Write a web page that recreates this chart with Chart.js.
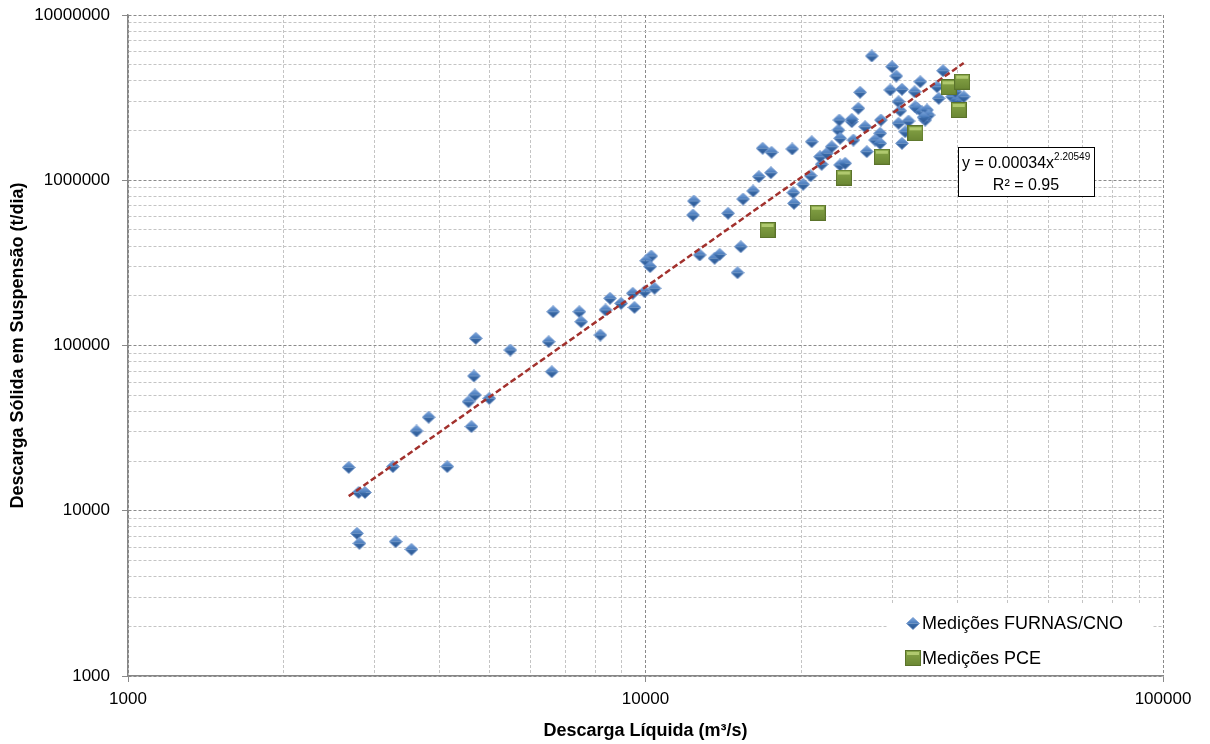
<!DOCTYPE html>
<html>
<head>
<meta charset="utf-8">
<script src="https://cdn.jsdelivr.net/npm/chart.js@4/dist/chart.umd.min.js"></script>
<style>
  html, body { margin: 0; padding: 0; background: #fff; }
  #wrap { width: 1210px; height: 744px; }
</style>
</head>
<body>
<div id="wrap"><canvas id="sedChart" width="1210" height="744"></canvas></div>
<script>
// Medições FURNAS/CNO: descarga líquida (m³/s) x descarga sólida (t/dia)
const furnasQ = [
  2670, 2790, 2870, 2770, 2800, 3250, 3290, 3530, 3610, 3810,
  4140, 4550, 4680, 4990, 4610, 4660, 4700, 5480, 6500, 6590,
  6630, 7450, 7510, 8180, 8370, 8540, 8970, 9450, 9520, 9960,
  10410, 10260, 10030, 10210, 12400, 12350, 12730, 13600, 13910, 14440,
  15280, 15060, 15440, 16140, 16560, 17470, 16840, 17520, 19210, 20950,
  19300, 19360, 20170, 20850, 21900, 21740, 22400, 22900, 23770, 24310,
  23590, 23770, 25040, 25220, 26570, 26770, 28410, 27780, 28410, 30830,
  31300, 31760, 34720, 27370, 29950, 30520, 25980, 29720, 31300, 33110,
  33960, 30830, 31060, 33210, 25780, 25040, 23690, 28500, 32230, 33460,
  34220, 34990, 35240, 34460, 36590, 36860, 37580, 39120, 40000, 41200,
  39700
];
const furnasQss = [
  18300, 12900, 12900, 7300, 6350, 18500, 6500, 5840, 30400, 36800,
  18500, 45700, 50200, 47900, 32300, 65400, 110500, 93900, 105400, 69400,
  160100, 160100, 139300, 115700, 164000, 193000, 180000, 207000, 170000, 211700,
  221900, 348000, 326000, 300000, 748700, 616000, 353000, 337000, 356000, 631000,
  396000, 275800, 770000, 861000, 1051000, 1111000, 1561000, 1476000, 1546000, 1711000,
  841000, 725000, 945000, 1065000, 1249000, 1388000, 1456000, 1596000, 1237000, 1267000,
  2014000, 1794000, 2262000, 1752000, 2109000, 1489000, 1924000, 1752000, 1673000, 2212000,
  1673000, 1967000, 2315000, 5648000, 4865000, 4274000, 3406000, 3517000, 3552000, 3435000,
  3948000, 2988000, 2636000, 2787000, 2725000, 2338000, 2315000, 2315000, 2283000, 2725000,
  2598000, 2662000, 2482000, 2404000, 3682000, 3131000, 4602000, 3202000, 3059000, 3202000,
  3435000
];

// Medições PCE
const pceQ = [17210, 21520, 24170, 28630, 33240, 38530, 40920, 40300];
const pceQss = [500000, 636000, 1039000, 1388000, 1924000, 3651000, 3948000, 2662000];

// curva de potência ajustada: y = a * x^b
const trendA = 0.00034;
const trendB = 2.20549;
const trendR2 = 0.95;

// decades shown on the axes
const xDecades = [1000, 10000, 100000];
const yDecades = [1000, 10000, 100000, 1000000, 10000000];

const FONT = "'Liberation Sans', Arial, sans-serif";

function toPoints(xs, ys) {
  return xs.map((x, i) => ({ x: x, y: ys[i] }));
}

function isDecade(v) {
  const l = Math.log10(v);
  return Math.abs(l - Math.round(l)) < 1e-9;
}

// gridline positions 1..9 x 10^n between the first and last decade
function logTicks(decades) {
  const out = [];
  for (let i = 0; i < decades.length - 1; i++) {
    for (let m = 1; m <= 9; m++) out.push(decades[i] * m);
  }
  out.push(decades[decades.length - 1]);
  return out;
}

// Excel-like marker sprites
function makeDiamond() {
  const c = document.createElement('canvas');
  c.width = 14; c.height = 13;
  const g = c.getContext('2d');
  const cx = 7, cy = 6.5, r = 13.5, b = 12.5;
  g.beginPath();
  g.moveTo(cx, 0.5); g.lineTo(r, cy); g.lineTo(0.5, cy); g.closePath();
  let gr = g.createLinearGradient(0, 0.5, 0, cy);
  gr.addColorStop(0, '#7fa8dc');
  gr.addColorStop(1, '#4679bb');
  g.fillStyle = gr; g.fill();
  g.beginPath();
  g.moveTo(0.5, cy); g.lineTo(r, cy); g.lineTo(cx, b); g.closePath();
  gr = g.createLinearGradient(0, cy, 0, b);
  gr.addColorStop(0, '#3a6cab');
  gr.addColorStop(1, '#2b558d');
  g.fillStyle = gr; g.fill();
  g.beginPath();
  g.moveTo(cx, 0.5); g.lineTo(r, cy); g.lineTo(cx, b); g.lineTo(0.5, cy); g.closePath();
  g.strokeStyle = 'rgba(100,140,200,0.75)';
  g.lineWidth = 1;
  g.stroke();
  return c;
}

function makeSquare() {
  const c = document.createElement('canvas');
  c.width = 16; c.height = 16;
  const g = c.getContext('2d');
  const gr = g.createLinearGradient(0, 0, 0, 16);
  gr.addColorStop(0, '#88a648');
  gr.addColorStop(1, '#6a8633');
  g.fillStyle = gr;
  g.fillRect(0, 0, 16, 16);
  g.fillStyle = '#b0c96f';
  g.fillRect(2, 2, 12, 3);
  g.strokeStyle = '#5b732b';
  g.lineWidth = 1;
  g.strokeRect(0.5, 0.5, 15, 15);
  return c;
}

const blueMarker = makeDiamond();
const greenMarker = makeSquare();

// trend line spans the measured range
const allQ = furnasQ.concat(pceQ);
const qMin = Math.min(...allQ);
const qMax = Math.max(...allQ);
const trendLine = [qMin, qMax].map(q => ({ x: q, y: trendA * Math.pow(q, trendB) }));

// equation box and in-plot legend
const overlayPlugin = {
  id: 'overlay',
  afterDatasetsDraw(chart) {
    const ctx = chart.ctx;
    const area = chart.chartArea;
    ctx.save();

    // equation
    const main = 'y = ' + trendA + 'x';
    const sup = String(trendB);
    const r2 = 'R² = ' + trendR2;
    ctx.font = '16px ' + FONT;
    const wMain = ctx.measureText(main).width;
    const wR2 = ctx.measureText(r2).width;
    ctx.font = '10px ' + FONT;
    const wSup = ctx.measureText(sup).width;
    const boxX = Math.round(area.left + 830);
    const boxY = Math.round(area.top + 132);
    const boxW = Math.round(wMain + wSup + 8);
    const boxH = 49;
    ctx.fillStyle = '#fff';
    ctx.fillRect(boxX, boxY, boxW, boxH);
    ctx.strokeStyle = '#000';
    ctx.lineWidth = 1;
    ctx.strokeRect(boxX + 0.5, boxY + 0.5, boxW, boxH);
    ctx.fillStyle = '#000';
    ctx.textBaseline = 'alphabetic';
    ctx.textAlign = 'left';
    ctx.font = '16px ' + FONT;
    ctx.fillText(main, boxX + 4, boxY + 21);
    ctx.font = '10px ' + FONT;
    ctx.fillText(sup, boxX + 4 + wMain, boxY + 13);
    ctx.font = '16px ' + FONT;
    ctx.fillText(r2, boxX + boxW / 2 - wR2 / 2, boxY + 43);

    // legend
    const lx = area.left + 759;
    const ly = area.bottom - 72;
    ctx.fillStyle = '#fff';
    ctx.fillRect(lx, ly, 266, 71);
    const items = [
      { img: blueMarker, text: chart.data.datasets[0].label, y: ly + 19 },
      { img: greenMarker, text: chart.data.datasets[1].label, y: ly + 54 }
    ];
    ctx.font = '18px ' + FONT;
    ctx.textBaseline = 'middle';
    ctx.fillStyle = '#000';
    items.forEach(it => {
      ctx.drawImage(it.img, Math.round(lx + 26 - it.img.width / 2), Math.round(it.y - it.img.height / 2));
      ctx.fillText(it.text, lx + 35, it.y + 1);
    });
    ctx.restore();
  }
};

const gridColor = (c) => isDecade(c.tick.value) ? '#8a8a8a' : '#c4c4c4';
const tickColor = (c) => isDecade(c.tick.value) ? '#8a8a8a' : 'rgba(0,0,0,0)';

new Chart(document.getElementById('sedChart').getContext('2d'), {
  type: 'scatter',
  data: {
    datasets: [
      {
        label: 'Medições FURNAS/CNO',
        data: toPoints(furnasQ, furnasQss),
        pointStyle: blueMarker,
        pointRadius: 7,
        order: 2
      },
      {
        label: 'Medições PCE',
        data: toPoints(pceQ, pceQss),
        pointStyle: greenMarker,
        pointRadius: 8,
        order: 0
      },
      {
        label: 'Potência',
        type: 'line',
        data: trendLine,
        borderColor: '#a2312d',
        borderWidth: 2.5,
        borderDash: [6, 3],
        pointRadius: 0,
        fill: false,
        order: 1
      }
    ]
  },
  options: {
    responsive: false,
    devicePixelRatio: 1,
    animation: false,
    events: [],
    layout: { padding: { top: 15, right: 47, left: 0, bottom: 0 } },
    scales: {
      x: {
        type: 'logarithmic',
        min: xDecades[0],
        max: xDecades[xDecades.length - 1],
        afterBuildTicks: (axis) => { axis.ticks = logTicks(xDecades).map(v => ({ value: v })); },
        afterFit: (axis) => { axis.height = 68; },
        grid: { color: gridColor, lineWidth: 1, tickColor: tickColor, tickLength: 6 },
        border: { display: true, color: '#868686', width: 1.5, dash: [3, 2] },
        ticks: {
          autoSkip: false,
          maxRotation: 0,
          padding: 7,
          color: '#000',
          font: { family: FONT, size: 17 },
          callback: (v) => isDecade(v) ? String(v) : ''
        },
        title: {
          display: true,
          text: 'Descarga Líquida (m³/s)',
          color: '#000',
          font: { family: FONT, size: 18, weight: 'bold' },
          padding: { top: 0, bottom: 2 }
        }
      },
      y: {
        type: 'logarithmic',
        min: yDecades[0],
        max: yDecades[yDecades.length - 1],
        afterBuildTicks: (axis) => { axis.ticks = logTicks(yDecades).map(v => ({ value: v })); },
        afterFit: (axis) => { axis.width = 128; },
        // long tick slot, only its outer 6px next to the axis is stroked
        grid: {
          color: gridColor, lineWidth: 1, tickColor: tickColor,
          tickLength: 18, tickBorderDash: [6, 12], tickBorderDashOffset: 6
        },
        border: { display: true, color: '#868686', width: 1.5, dash: [3, 2] },
        ticks: {
          autoSkip: false,
          padding: 0,
          color: '#000',
          font: { family: FONT, size: 17 },
          callback: (v) => isDecade(v) ? String(v) : ''
        },
        title: {
          display: true,
          text: 'Descarga Sólida em Suspensão (t/dia)',
          color: '#000',
          font: { family: FONT, size: 18, weight: 'bold' },
          padding: { top: 7, bottom: 0 }
        }
      }
    },
    plugins: {
      legend: { display: false },
      tooltip: { enabled: false }
    }
  },
  plugins: [overlayPlugin]
});
</script>
</body>
</html>
